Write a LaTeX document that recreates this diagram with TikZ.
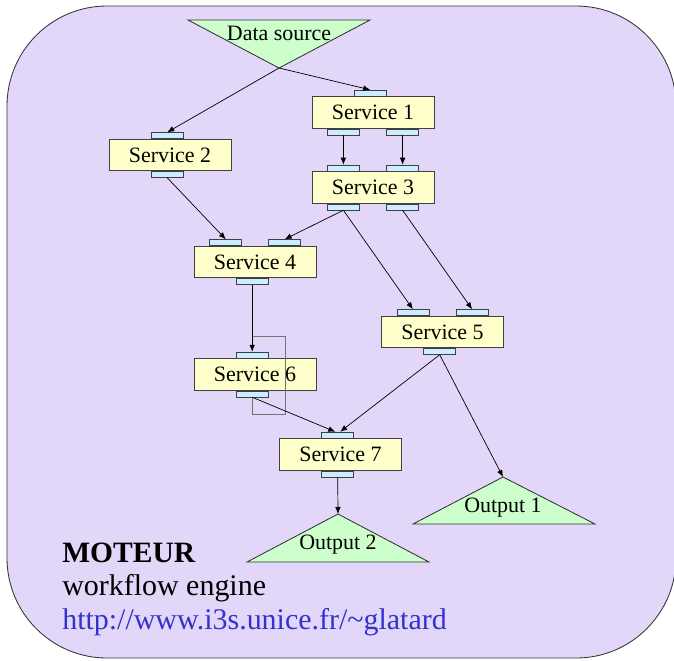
\documentclass[tikz,border=0pt]{standalone}
\usepackage{fontspec}
\setmainfont{Liberation Serif}
\usepackage{tikz}
\usetikzlibrary{positioning, calc, arrows.meta}
\definecolor{bgfill}{RGB}{227,215,249}
\definecolor{servicefill}{RGB}{255,255,204}
\definecolor{portfill}{RGB}{204,236,255}
\definecolor{datafill}{RGB}{204,255,204}
\definecolor{urlblue}{RGB}{51,51,204}
\tikzset{
	service/.style={
		draw=black!75,
		fill=servicefill,
		line width=0.6pt,
		minimum width=3.05cm,
		minimum height=0.78cm,
		inner sep=0pt,
		font=\fontsize{15.6}{18}\selectfont
	},
	port/.style={
		draw=black!75,
		fill=portfill,
		line width=0.5pt,
		minimum width=0.8cm,
		minimum height=0.15cm,
		inner sep=0pt
	},
	datatri/.style={
		draw=black!80,
		fill=datafill,
		line width=0.6pt
	},
	datalabel/.style={
		inner sep=0pt,
		font=\fontsize{15.6}{18}\selectfont
	},
	loopline/.style={
		black!55,
		line width=0.6pt
	}
}

\begin{document}
\begin{tikzpicture}[x=0.025cm, y=-0.025cm]
	\useasboundingbox (0,0) rectangle (674,660);
	\draw[fill=bgfill, draw=black!80, line width=0.6pt, rounded corners=2.5cm] (7,6) rectangle (676,658);

	% data source and outputs
	\draw[datatri] (188,20) -- (370,20) -- (279,68) -- cycle;
	\coordinate (src) at (279,68);
	\node[datalabel] (srclabel) at (279,33) {Data source};

	\draw[datatri] (503,477) -- (595,524) -- (413,524) -- cycle;
	\coordinate (out1) at (503,477);
	\node[datalabel] (out1label) at (503,508) {Output 1};

	\draw[datatri] (338,514) -- (429,562) -- (247,562) -- cycle;
	\coordinate (out2) at (338,514);
	\node[datalabel] (out2label) at (338,545) {Output 2};

	% services
	\node[service] (s1) at (373,112.5) {Service 1};
	\node[service] (s2) at (170,155) {Service 2};
	\node[service] (s3) at (373,187.5) {Service 3};
	\node[service] (s4) at (255,262) {Service 4};
	\node[service] (s5) at (442.5,332) {Service 5};
	\node[service] (s6) at (255,374.5) {Service 6};
	\node[service] (s7) at (340.5,454.5) {Service 7};

	% ports
	\node[port, above=0pt of s1, xshift=-0.07cm] (s1-in) {};
	\node[port, below=0pt of s1, xshift=-0.74cm] (s1-outa) {};
	\node[port, below=0pt of s1, xshift=0.74cm] (s1-outb) {};

	\node[port, above=0pt of s2, xshift=-0.07cm] (s2-in) {};
	\node[port, below=0pt of s2, xshift=-0.07cm] (s2-out) {};

	\node[port, above=0pt of s3, xshift=-0.74cm] (s3-ina) {};
	\node[port, above=0pt of s3, xshift=0.74cm] (s3-inb) {};
	\node[port, below=0pt of s3, xshift=-0.74cm] (s3-outa) {};
	\node[port, below=0pt of s3, xshift=0.74cm] (s3-outb) {};

	\node[port, above=0pt of s4, xshift=-0.73cm] (s4-ina) {};
	\node[port, above=0pt of s4, xshift=0.74cm] (s4-inb) {};
	\node[port, below=0pt of s4, xshift=-0.07cm] (s4-out) {};

	\node[port, above=0pt of s5, xshift=-0.74cm] (s5-ina) {};
	\node[port, above=0pt of s5, xshift=0.74cm] (s5-inb) {};
	\node[port, below=0pt of s5, xshift=-0.07cm] (s5-out) {};

	\node[port, above=0pt of s6, xshift=-0.07cm] (s6-in) {};
	\node[port, below=0pt of s6, xshift=-0.07cm] (s6-out) {};

	\node[port, above=0pt of s7, xshift=-0.07cm] (s7-in) {};
	\node[port, below=0pt of s7, xshift=-0.07cm] (s7-out) {};

	% loop round service 6
	\coordinate (looptop) at (285,336);
	\draw[loopline] (s6-out.south) -- ++(0,17) -| (looptop) -- (looptop -| s6-out);

	% connections
	\begin{scope}[black, line width=0.5pt, ->, >={Latex[length=5pt,width=4pt]}]
	\draw (src) -- (s1-in.north);
	\draw (src) -- (s2-in.north);
	\draw (s1-outa.south) -- (s3-ina.north);
	\draw (s1-outb.south) -- (s3-inb.north);
	\draw (s2-out.south) -- (s4-ina.north);
	\draw (s3-outa.south) -- (s4-inb.north);
	\draw (s3-outa.south) -- (s5-ina.north);
	\draw (s3-outb.south) -- (s5-inb.north);
	\draw (s4-out.south) -- (s6-in.north);
	\draw (s6-out.south) -- ([xshift=-0.06cm]s7-in.north);
	\draw (s5-out.south) -- ([xshift=0.06cm]s7-in.north);
	\draw (s5-out.south) -- (out1);
	\draw (s7-out.south) -- (out2);
	\end{scope}

	% engine description
	\node[anchor=base west, inner sep=0pt, font=\fontsize{21}{25}\selectfont\bfseries] (title) at (62,562) {MOTEUR};
	\node[anchor=base west, inner sep=0pt, font=\fontsize{21.3}{25}\selectfont] (subtitle) at (62,595) {workflow engine};
	\node[anchor=base west, inner sep=0pt, font=\fontsize{21.3}{25}\selectfont, text=urlblue] (url) at (62,629) {http://www.i3s.unice.fr/\textasciitilde glatard};
\end{tikzpicture}
\end{document}
